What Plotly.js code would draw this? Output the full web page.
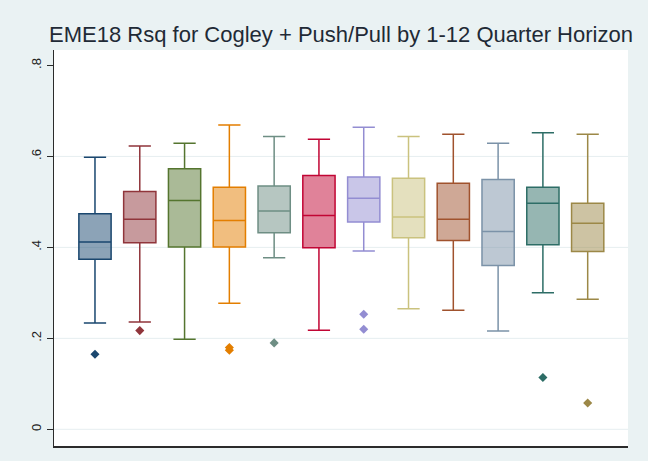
<!DOCTYPE html>
<html>
<head>
<meta charset="utf-8">
<script src="https://cdn.plot.ly/plotly-3.0.1.min.js"></script>
<style>html,body{margin:0;padding:0;background:#eaf2f3;}#chart{width:648px;height:461px;}</style>
</head>
<body>
<div id="chart"></div>
<script>
// Horizons 1..12 (quarters)
const horizons = [1,2,3,4,5,6,7,8,9,10,11,12];
const upperWhisker = [0.598,0.623,0.629,0.669,0.644,0.638,0.664,0.644,0.649,0.629,0.652,0.649];
const q3Values     = [0.474,0.523,0.573,0.532,0.535,0.558,0.555,0.552,0.541,0.549,0.532,0.497];
const medianValues = [0.412,0.462,0.503,0.459,0.480,0.470,0.508,0.467,0.462,0.435,0.497,0.453];
const q1Values     = [0.374,0.410,0.401,0.401,0.432,0.399,0.456,0.421,0.415,0.360,0.406,0.391];
const lowerWhisker = [0.234,0.236,0.198,0.277,0.377,0.218,0.392,0.265,0.262,0.216,0.300,0.286];
const outliers     = [[0.165],[0.217],[],[0.174,0.180],[0.190],[],[0.253,0.220],[],[],[],[0.114],[0.058]];
const colors = ['#1a476f','#90353b','#55752f','#e37e00','#6e8e84','#c10534','#938dd2','#cac27e','#a0522d','#7b92a8','#2d6d66','#9c8847'];
const yTicks = [0,0.2,0.4,0.6,0.8];
const yTickText = ['0','.2','.4','.6','.8'];
const gridVals = [0,0.2,0.4,0.6];

function rgba(hex,a){
  const r=parseInt(hex.slice(1,3),16),g=parseInt(hex.slice(3,5),16),b=parseInt(hex.slice(5,7),16);
  return 'rgba('+r+','+g+','+b+','+a+')';
}

const traces = [];
horizons.forEach((h,i)=>{
  traces.push({
    type:'box', x:[h], q1:[q1Values[i]], median:[medianValues[i]], q3:[q3Values[i]],
    lowerfence:[lowerWhisker[i]], upperfence:[upperWhisker[i]],
    width:0.72, whiskerwidth:0.69, boxpoints:false,
    fillcolor:rgba(colors[i],0.5), line:{color:colors[i],width:1.5},
    hoverinfo:'skip', showlegend:false
  });
});
horizons.forEach((h,i)=>{
  if(outliers[i].length){
    traces.push({
      type:'scatter', mode:'markers', x:outliers[i].map(()=>h), y:outliers[i],
      marker:{symbol:'diamond',size:7,color:colors[i]}, showlegend:false, hoverinfo:'skip'
    });
  }
});

const shapes = gridVals.map(v=>({type:'line',xref:'paper',yref:'y',x0:0,x1:1,y0:v,y1:v,
  line:{color:'#e6eef0',width:1},layer:'below'}));

const layout = {
  width:648, height:461,
  paper_bgcolor:'#eaf2f3', plot_bgcolor:'#ffffff',
  margin:{l:54,r:20,t:50,b:15},
  title:{text:'EME18 Rsq for Cogley + Push/Pull by 1-12 Quarter Horizon',
    font:{family:'Liberation Sans, Arial, sans-serif',size:22,color:'#1f2a36'},
    x:0.5, xref:'paper', xanchor:'center', y:1-34/461, yref:'container', yanchor:'middle'},
  xaxis:{range:[0.085,12.9], showgrid:false, zeroline:false, showticklabels:false, ticks:'',
    showline:true, linecolor:'#2b2b2b', linewidth:1.5, fixedrange:true},
  yaxis:{range:[-0.0367,0.834], tickvals:yTicks, ticktext:yTickText, tickangle:-90,
    ticks:'outside', ticklen:6, tickcolor:'#2b2b2b', tickwidth:1,
    showgrid:false, zeroline:false, showline:true, linecolor:'#2b2b2b', linewidth:1.5,
    tickfont:{family:'Liberation Sans, Arial, sans-serif',size:13,color:'#222'}, fixedrange:true},
  shapes:shapes,
  boxmode:'overlay', showlegend:false
};
Plotly.newPlot('chart',traces,layout,{displayModeBar:false,staticPlot:true});
</script>
</body>
</html>
